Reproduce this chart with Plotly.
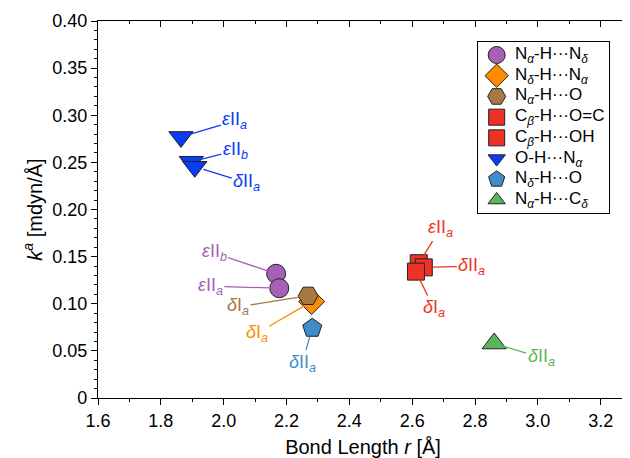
import plotly.graph_objects as go

# ---------------- data ----------------
series = ["N<sub><i>α</i></sub>-H···N<sub><i>δ</i></sub>",
          "N<sub><i>δ</i></sub>-H···N<sub><i>α</i></sub>",
          "N<sub><i>α</i></sub>-H···O",
          "C<sub><i>β</i></sub>-H···O=C",
          "C<sub><i>β</i></sub>-H···OH",
          "O-H···N<sub><i>α</i></sub>",
          "N<sub><i>δ</i></sub>-H···O",
          "N<sub><i>α</i></sub>-H···C<sub><i>δ</i></sub>"]

r_na_nd = [2.167, 2.177]
k_na_nd = [0.1318, 0.1165]
lab_na_nd = ["<i>ε</i>II<sub><i>b</i></sub>", "<i>ε</i>II<sub><i>a</i></sub>"]

r_nd_na = [2.280]
k_nd_na = [0.1023]
lab_nd_na = ["<i>δ</i>I<sub><i>a</i></sub>"]

r_na_o = [2.269]
k_na_o = [0.1084]
lab_na_o = ["<i>δ</i>I<sub><i>a</i></sub>"]

r_cb_oc = [2.621, 2.637]
k_cb_oc = [0.1430, 0.1386]
lab_cb_oc = ["<i>ε</i>II<sub><i>a</i></sub>", "<i>δ</i>II<sub><i>a</i></sub>"]

r_cb_oh = [2.612]
k_cb_oh = [0.1341]
lab_cb_oh = ["<i>δ</i>I<sub><i>a</i></sub>"]

r_oh_na = [1.864, 1.897, 1.908]
k_oh_na = [0.2770, 0.2507, 0.2453]
lab_oh_na = ["<i>ε</i>II<sub><i>a</i></sub>", "<i>ε</i>II<sub><i>b</i></sub>", "<i>δ</i>II<sub><i>a</i></sub>"]

r_nd_o = [2.282]
k_nd_o = [0.0741]
lab_nd_o = ["<i>δ</i>II<sub><i>a</i></sub>"]

r_na_cd = [2.861]
k_na_cd = [0.0578]
lab_na_cd = ["<i>δ</i>II<sub><i>a</i></sub>"]

x_ticks = [1.6, 1.8, 2.0, 2.2, 2.4, 2.6, 2.8, 3.0, 3.2]
y_ticks = [0, 0.05, 0.10, 0.15, 0.20, 0.25, 0.30, 0.35, 0.40]
y_ticktext = ["0", "0.05", "0.10", "0.15", "0.20", "0.25", "0.30", "0.35", "0.40"]

# ---------------- styles ----------------
FONT = "Liberation Sans, Arial, sans-serif"
styles = [
    dict(symbol="circle", size=19, lsize=17, color="#A660B4"),
    dict(symbol="diamond", size=20, lsize=18, color="#FF8C00"),
    dict(symbol="hexagon2", size=20, lsize=18, color="#A77842"),
    dict(symbol="square", size=17, lsize=16, color="#EE3326"),
    dict(symbol="square", size=17, lsize=16, color="#EE3326"),
    dict(symbol="triangle-down", size=21, lsize=15, color="#0A3CF5"),
    dict(symbol="pentagon", size=20, lsize=17, color="#3E8DC8"),
    dict(symbol="triangle-up", size=21, lsize=15, color="#5BB65A"),
]
# label offsets (pixels, text centre relative to point)
offsets = [
    [(-62, -21), (-69, -2)],
    [(-55, 32)],
    [(-70, 11)],
    [(22, -35), (48, -1)],
    [(18, 37)],
    [(54, -16), (44, -11), (52, 16)],
    [(-10, 35)],
    [(47, 14)],
]

data = [(r_na_nd, k_na_nd, lab_na_nd), (r_nd_na, k_nd_na, lab_nd_na),
        (r_na_o, k_na_o, lab_na_o), (r_cb_oc, k_cb_oc, lab_cb_oc),
        (r_cb_oh, k_cb_oh, lab_cb_oh), (r_oh_na, k_oh_na, lab_oh_na),
        (r_nd_o, k_nd_o, lab_nd_o), (r_na_cd, k_na_cd, lab_na_cd)]

fig = go.Figure()
annotations = []
for name, (xs, ys, labs), st, offs in zip(series, data, styles, offsets):
    fig.add_trace(go.Scatter(
        x=xs, y=ys, mode="markers", name=name, showlegend=False,
        marker=dict(symbol=st["symbol"], size=st["size"], color=st["color"],
                    opacity=1, line=dict(color="#222222", width=1)),
        hoverinfo="skip"))
    for x, y, lab, (dx, dy) in zip(xs, ys, labs, offs):
        annotations.append(dict(
            x=x, y=y, xref="x", yref="y", text=lab, showarrow=True,
            ax=dx, ay=dy, arrowhead=0, arrowwidth=1.3, arrowcolor=st["color"],
            standoff=9, font=dict(family=FONT, size=18, color=st["color"]),
            borderpad=1))

# invisible trace to activate mirrored top/right axes with inside ticks
fig.add_trace(go.Scatter(x=r_na_cd, y=k_na_cd, xaxis="x2", yaxis="y2",
                         mode="markers", marker=dict(opacity=0),
                         showlegend=False, hoverinfo="skip"))

# ---------------- legend (boxed key on its own small axes) ----------------
LEG_MARK_X = 18.4
LEG_TEXT_X = 35
rows = list(range(len(series)))
fig.add_trace(go.Scatter(
    x=[LEG_MARK_X] * len(series), y=rows, xaxis="x3", yaxis="y3",
    mode="markers", showlegend=False, hoverinfo="skip",
    marker=dict(symbol=[s["symbol"] for s in styles],
                size=[s["lsize"] for s in styles],
                color=[s["color"] for s in styles], opacity=1,
                line=dict(color="#222222", width=1))))
for i, name in zip(rows, series):
    annotations.append(dict(x=LEG_TEXT_X, y=i, xref="x3", yref="y3", text=name,
                            showarrow=False, xanchor="left", yanchor="middle",
                            font=dict(family=FONT, size=17, color="black")))

XR = [1.6, 3.287]
YR = [0, 0.40]
common = dict(tickwidth=1.3, tickcolor="black", showline=True, linecolor="black",
              linewidth=1.3, showgrid=False, zeroline=False, automargin=False)
fig.update_layout(
    width=622, height=450,
    margin=dict(l=90, r=2, t=13, b=60),
    paper_bgcolor="white", plot_bgcolor="white",
    font=dict(family=FONT, size=18, color="black"),
    showlegend=False,
    annotations=annotations,
    xaxis=dict(range=XR, tickvals=x_ticks, ticktext=[f"{v:.1f}" for v in x_ticks],
               ticks="outside", ticklen=6,
               minor=dict(dtick=0.1, tick0=1.6, ticks="outside", ticklen=3,
                          tickwidth=1.3, tickcolor="black", showgrid=False),
               title=dict(text="Bond Length <i>r</i> [Å]", font=dict(size=20), standoff=17),
               tickfont=dict(size=18), **common),
    yaxis=dict(range=YR, tickvals=y_ticks, ticktext=y_ticktext,
               ticks="outside", ticklen=6,
               minor=dict(dtick=0.01, tick0=0, ticks="outside", ticklen=3,
                          tickwidth=1.3, tickcolor="black", showgrid=False),
               title=dict(text="<i>k</i><sup><i>a</i></sup> [mdyn/Å]", font=dict(size=20), standoff=4),
               tickfont=dict(size=18), **common),
    xaxis2=dict(range=XR, overlaying="x", side="top", tickvals=x_ticks,
                showticklabels=False, ticks="inside", ticklen=6,
                minor=dict(dtick=0.1, tick0=1.6, ticks="inside", ticklen=3,
                           tickwidth=1.3, tickcolor="black", showgrid=False),
                **common),
    yaxis2=dict(range=YR, overlaying="y", side="right", tickvals=y_ticks,
                showticklabels=False, ticks="inside", ticklen=6,
                minor=dict(dtick=0.01, tick0=0, ticks="inside", ticklen=3,
                           tickwidth=1.3, tickcolor="black", showgrid=False),
                **common),
    xaxis3=dict(domain=[0.7175, 0.9647], anchor="y3", range=[0, 131],
                showticklabels=False, ticks="", showgrid=False, zeroline=False,
                showline=True, mirror=True, linecolor="black", linewidth=1.3,
                fixedrange=True),
    yaxis3=dict(domain=[0.4915, 0.9451], anchor="x3", range=[7.613, -0.643],
                showticklabels=False, ticks="", showgrid=False, zeroline=False,
                showline=True, mirror=True, linecolor="black", linewidth=1.3,
                fixedrange=True),
)

fig.write_html("out.html")
